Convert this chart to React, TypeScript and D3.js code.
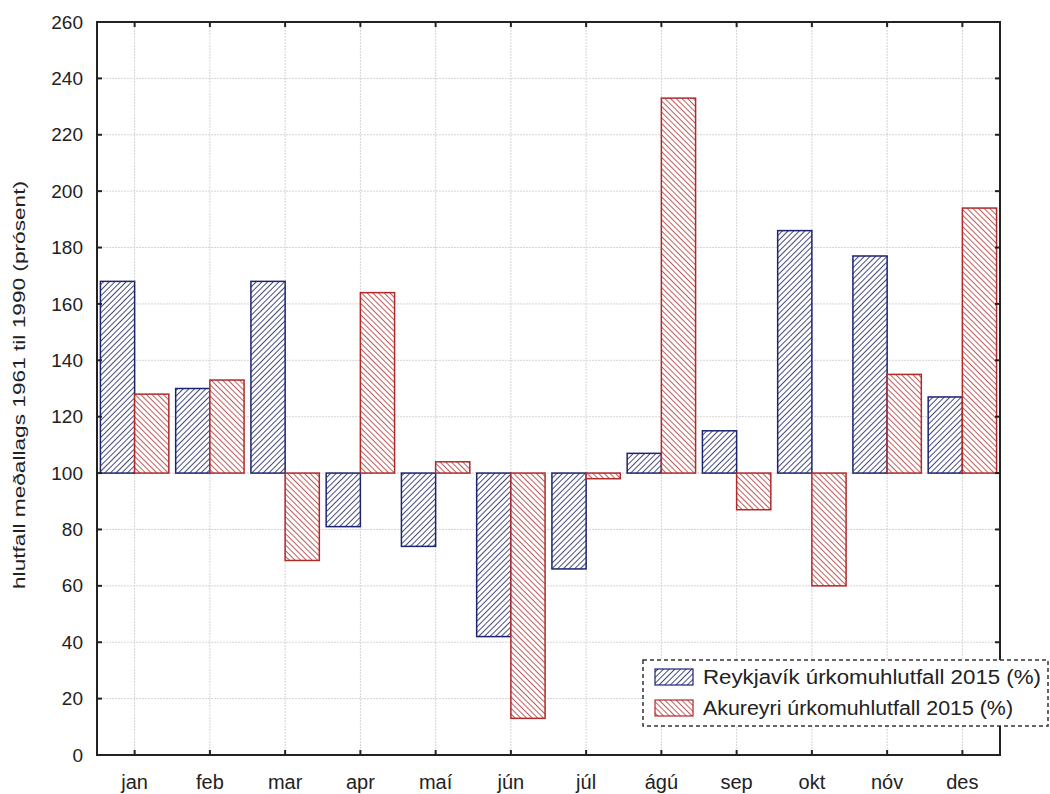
import * as d3 from "d3";

const months = ["jan", "feb", "mar", "apr", "maí", "jún", "júl", "ágú", "sep", "okt", "nóv", "des"];
const reykjavik = [168, 130, 168, 81, 74, 42, 66, 107, 115, 186, 177, 127];
const akureyri = [128, 133, 69, 164, 104, 13, 98, 233, 87, 60, 135, 194];
const seriesNames = ["Reykjavík úrkomuhlutfall 2015 (%)", "Akureyri úrkomuhlutfall 2015 (%)"];
const yTicks = d3.range(0, 261, 20);

const width = 1050;
const height = 794;
const margin = { top: 22, right: 50, bottom: 39, left: 97 };
const baseline = 100;

const colors = [
  { stroke: "#1c2470", hatch: "#33386e" },
  { stroke: "#b02a2a", hatch: "#b94a4a" },
];

const App = () => {
  const x = d3
    .scaleBand<string>()
    .domain(months)
    .range([margin.left, width - margin.right])
    .padding(0);

  const y = d3
    .scaleLinear()
    .domain([0, 260])
    .range([height - margin.bottom, margin.top]);

  const inner = d3
    .scaleBand<number>()
    .domain([0, 1])
    .range([0, x.bandwidth()])
    .paddingOuter(0.1)
    .paddingInner(0);

  const series = [reykjavik, akureyri];
  const x0 = margin.left;
  const x1 = width - margin.right;
  const y0 = height - margin.bottom;
  const y1 = margin.top;
  const font = "'Liberation Sans', Arial, sans-serif";

  return (
    <svg width={width} height={height} style={{ display: "block", position: "absolute", left: 0, top: 0 }}>
      <defs>
        <pattern id="hatch0" patternUnits="userSpaceOnUse" width="4" height="4" patternTransform="rotate(45)">
          <rect width="4" height="4" fill="#ffffff" />
          <line x1="0" y1="0" x2="0" y2="4" stroke={colors[0].hatch} strokeWidth="1.8" />
        </pattern>
        <pattern id="hatch1" patternUnits="userSpaceOnUse" width="4" height="4" patternTransform="rotate(-45)">
          <rect width="4" height="4" fill="#ffffff" />
          <line x1="0" y1="0" x2="0" y2="4" stroke={colors[1].hatch} strokeWidth="1.8" />
        </pattern>
      </defs>
      <rect width={width} height={height} fill="#ffffff" />

      {/* grid */}
      {yTicks.slice(1, -1).map((t) => (
        <line key={"gy" + t} x1={x0} x2={x1} y1={y(t)} y2={y(t)} stroke="#d4d4d4" strokeDasharray="2,1" />
      ))}
      {months.map((m) => (
        <line
          key={"gx" + m}
          x1={x(m)! + x.bandwidth() / 2}
          x2={x(m)! + x.bandwidth() / 2}
          y1={y0}
          y2={y1}
          stroke="#d4d4d4"
          strokeDasharray="2,1"
        />
      ))}

      {/* bars */}
      {series.map((vals, si) =>
        vals.map((v, i) => {
          const bx = x(months[i])! + inner(si)!;
          const top = y(Math.max(v, baseline));
          const bottom = y(Math.min(v, baseline));
          return (
            <rect
              key={si + "-" + i}
              x={bx}
              y={top}
              width={inner.bandwidth()}
              height={bottom - top}
              fill={`url(#hatch${si})`}
              stroke={colors[si].stroke}
              strokeWidth={1.5}
            />
          );
        })
      )}

      {/* frame */}
      <rect x={x0} y={y1} width={x1 - x0} height={y0 - y1} fill="none" stroke="#222" strokeWidth={2} />

      {/* ticks inside on all sides */}
      {yTicks.map((t) => (
        <g key={"ty" + t}>
          <line x1={x0} x2={x0 + 5} y1={y(t)} y2={y(t)} stroke="#222" strokeWidth={2} />
          <line x1={x1 - 5} x2={x1} y1={y(t)} y2={y(t)} stroke="#222" strokeWidth={2} />
          <text
            x={x0 - 14}
            y={y(t)}
            dy="0.35em"
            textAnchor="end"
            fontFamily={font}
            fontSize={19}
            fill="#222"
          >
            {t}
          </text>
        </g>
      ))}
      {months.map((m) => {
        const cx = x(m)! + x.bandwidth() / 2;
        return (
          <g key={"tx" + m}>
            <line x1={cx} x2={cx} y1={y0} y2={y0 - 5} stroke="#222" strokeWidth={2} />
            <line x1={cx} x2={cx} y1={y1} y2={y1 + 5} stroke="#222" strokeWidth={2} />
            <text x={cx} y={y0 + 34} textAnchor="middle" fontFamily={font} fontSize={20} fill="#222">
              {m}
            </text>
          </g>
        );
      })}

      {/* y axis label */}
      <text
        transform={`translate(25, 385) rotate(-90)`}
        textAnchor="middle"
        fontFamily={font}
        fontSize={17}
        fill="#222"
        textLength={408}
        lengthAdjust="spacingAndGlyphs"
      >
        hlutfall meðallags 1961 til 1990 (prósent)
      </text>

      {/* legend */}
      <g transform="translate(643, 660)">
        <rect x={0} y={0} width={405} height={66} fill="#ffffff" stroke="#333" strokeWidth={1.5} strokeDasharray="4,3" />
        {seriesNames.map((name, si) => (
          <g key={name} transform={`translate(12, ${17 + si * 31})`}>
            <rect x={0} y={-8} width={38} height={16} fill={`url(#hatch${si})`} stroke={colors[si].stroke} strokeWidth={1.2} />
            <text
              x={48}
              y={0}
              dy="0.35em"
              fontFamily={font}
              fontSize={20}
              fill="#222"
              textLength={si === 0 ? 338 : 310}
              lengthAdjust="spacingAndGlyphs"
            >
              {name}
            </text>
          </g>
        ))}
      </g>
    </svg>
  );
};

export default App;
